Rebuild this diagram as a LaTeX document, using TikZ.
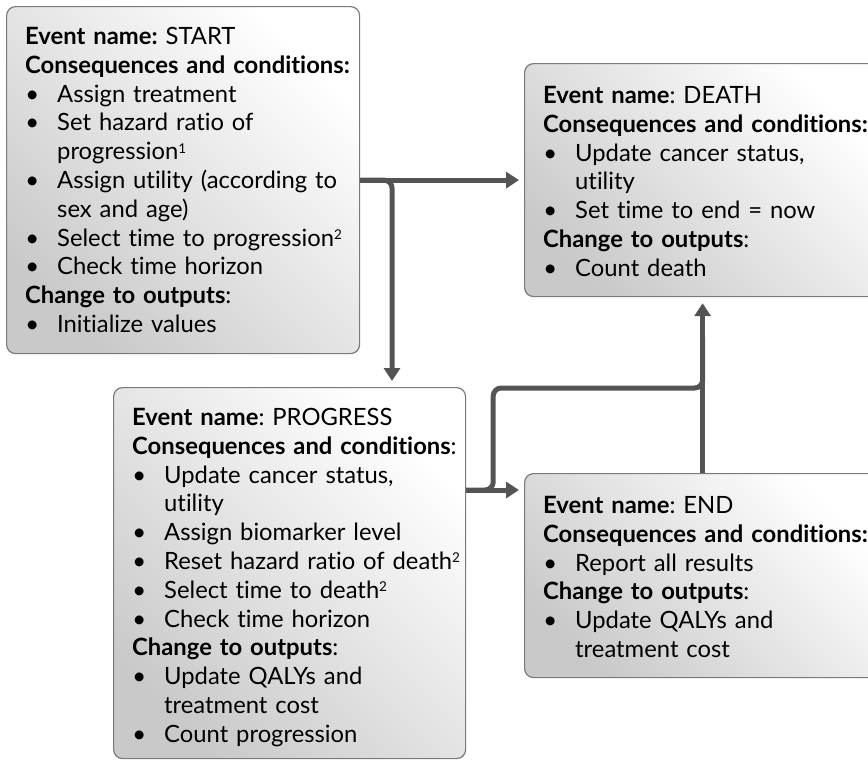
\documentclass[tikz,border=0pt]{standalone}
\usepackage{fontspec}
\setmainfont{Lato}[Ligatures=NoCommon]
\usetikzlibrary{arrows.meta,calc}

% one bullet line, and a continuation line set under the item text
\newcommand\evitem[1]{\par\noindent\makebox[14pt][c]{\textbullet}\hspace{18pt}#1}
\newcommand\evcont[1]{\par\noindent\hspace{32pt}#1}
\newcommand\evhead[1]{\par\noindent\textbf{#1}}
\newcommand\evnote[1]{\raisebox{6.5pt}{\fontsize{13.5}{14}\selectfont #1}}

\tikzset{
  evbox/.style={draw=black!52, line width=1.2pt, rounded corners=9pt,
    top color=white, bottom color=black!21, shading angle=-45,
    anchor=north west, inner sep=0pt},
  evtext/.style={anchor=north west, inner sep=0pt, text width=420pt,
    align=left, font=\fontsize{23.8}{28.8}\selectfont\frenchspacing},
  conn/.style={draw=black!67, line width=5pt},
  tip/.style={-{Triangle[length=13pt,width=16pt]}},
}

\begin{document}
\begin{tikzpicture}[x=1pt,y=-1pt]
\useasboundingbox (0,0) rectangle (868,761);
\clip (0,0) rectangle (868,761);

% event boxes
\node[evbox, minimum width=353pt, minimum height=347pt] (start) at (6,6) {};
\node[evbox, minimum width=356pt, minimum height=233pt] (death) at (524,63) {};
\node[evbox, minimum width=352pt, minimum height=371pt] (progress) at (113,387) {};
\node[evbox, minimum width=356pt, minimum height=204pt] (end) at (524,473) {};

% box contents
\node[evtext] (startT) at ([xshift=19pt,yshift=-21pt]start.north west) {%
  \textbf{Event name:} START
  \evhead{Consequences and conditions:}
  \evitem{Assign treatment}
  \evitem{Set hazard ratio of}
  \evcont{progression\evnote{1}}
  \evitem{Assign utility (according to}
  \evcont{sex and age)}
  \evitem{Select time to progression\evnote{2}}
  \evitem{Check time horizon}
  \evhead{Change to outputs}:
  \evitem{Initialize values}};

\node[evtext] (deathT) at ([xshift=19pt,yshift=-23pt]death.north west) {%
  \textbf{Event name}: DEATH
  \evhead{Consequences and conditions:}
  \evitem{Update cancer status,}
  \evcont{utility}
  \evitem{Set time to end = now}
  \evhead{Change to outputs}:
  \evitem{Count death}};

\node[evtext] (progressT) at ([xshift=19pt,yshift=-21pt]progress.north west) {%
  \textbf{Event name}: PROGRESS
  \evhead{Consequences and conditions}:
  \evitem{Update cancer status,}
  \evcont{utility}
  \evitem{Assign biomarker level}
  \evitem{Reset hazard ratio of death\evnote{2}}
  \evitem{Select time to death\evnote{2}}
  \evitem{Check time horizon}
  \evhead{Change to outputs}:
  \evitem{Update QALYs and}
  \evcont{treatment cost}
  \evitem{Count progression}};

\node[evtext] (endT) at ([xshift=19pt,yshift=-23pt]end.north west) {%
  \textbf{Event name}: END
  \evhead{Consequences and conditions:}
  \evitem{Report all results}
  \evhead{Change to outputs}:
  \evitem{Update QALYs and}
  \evcont{treatment cost}};

% connectors
\coordinate (pOut) at ([yshift=-103pt]progress.north east);
\coordinate (jog) at ([xshift=27pt,yshift=102pt]pOut);

\draw[conn, tip, shorten >=5pt] (start.east) -- (start.east -| death.west);
\draw[conn, tip, rounded corners=8pt, shorten >=6pt]
  (start.east) -| ([xshift=279pt]progress.north west);
\draw[conn, tip, shorten >=5pt] (pOut) -- (pOut -| end.west);
\draw[conn, rounded corners=8pt]
  (pOut) -| (jog) -| ([yshift=-40pt]death.south);
\draw[conn, tip, shorten >=6pt] (end.north) -- (death.south);
\end{tikzpicture}
\end{document}
